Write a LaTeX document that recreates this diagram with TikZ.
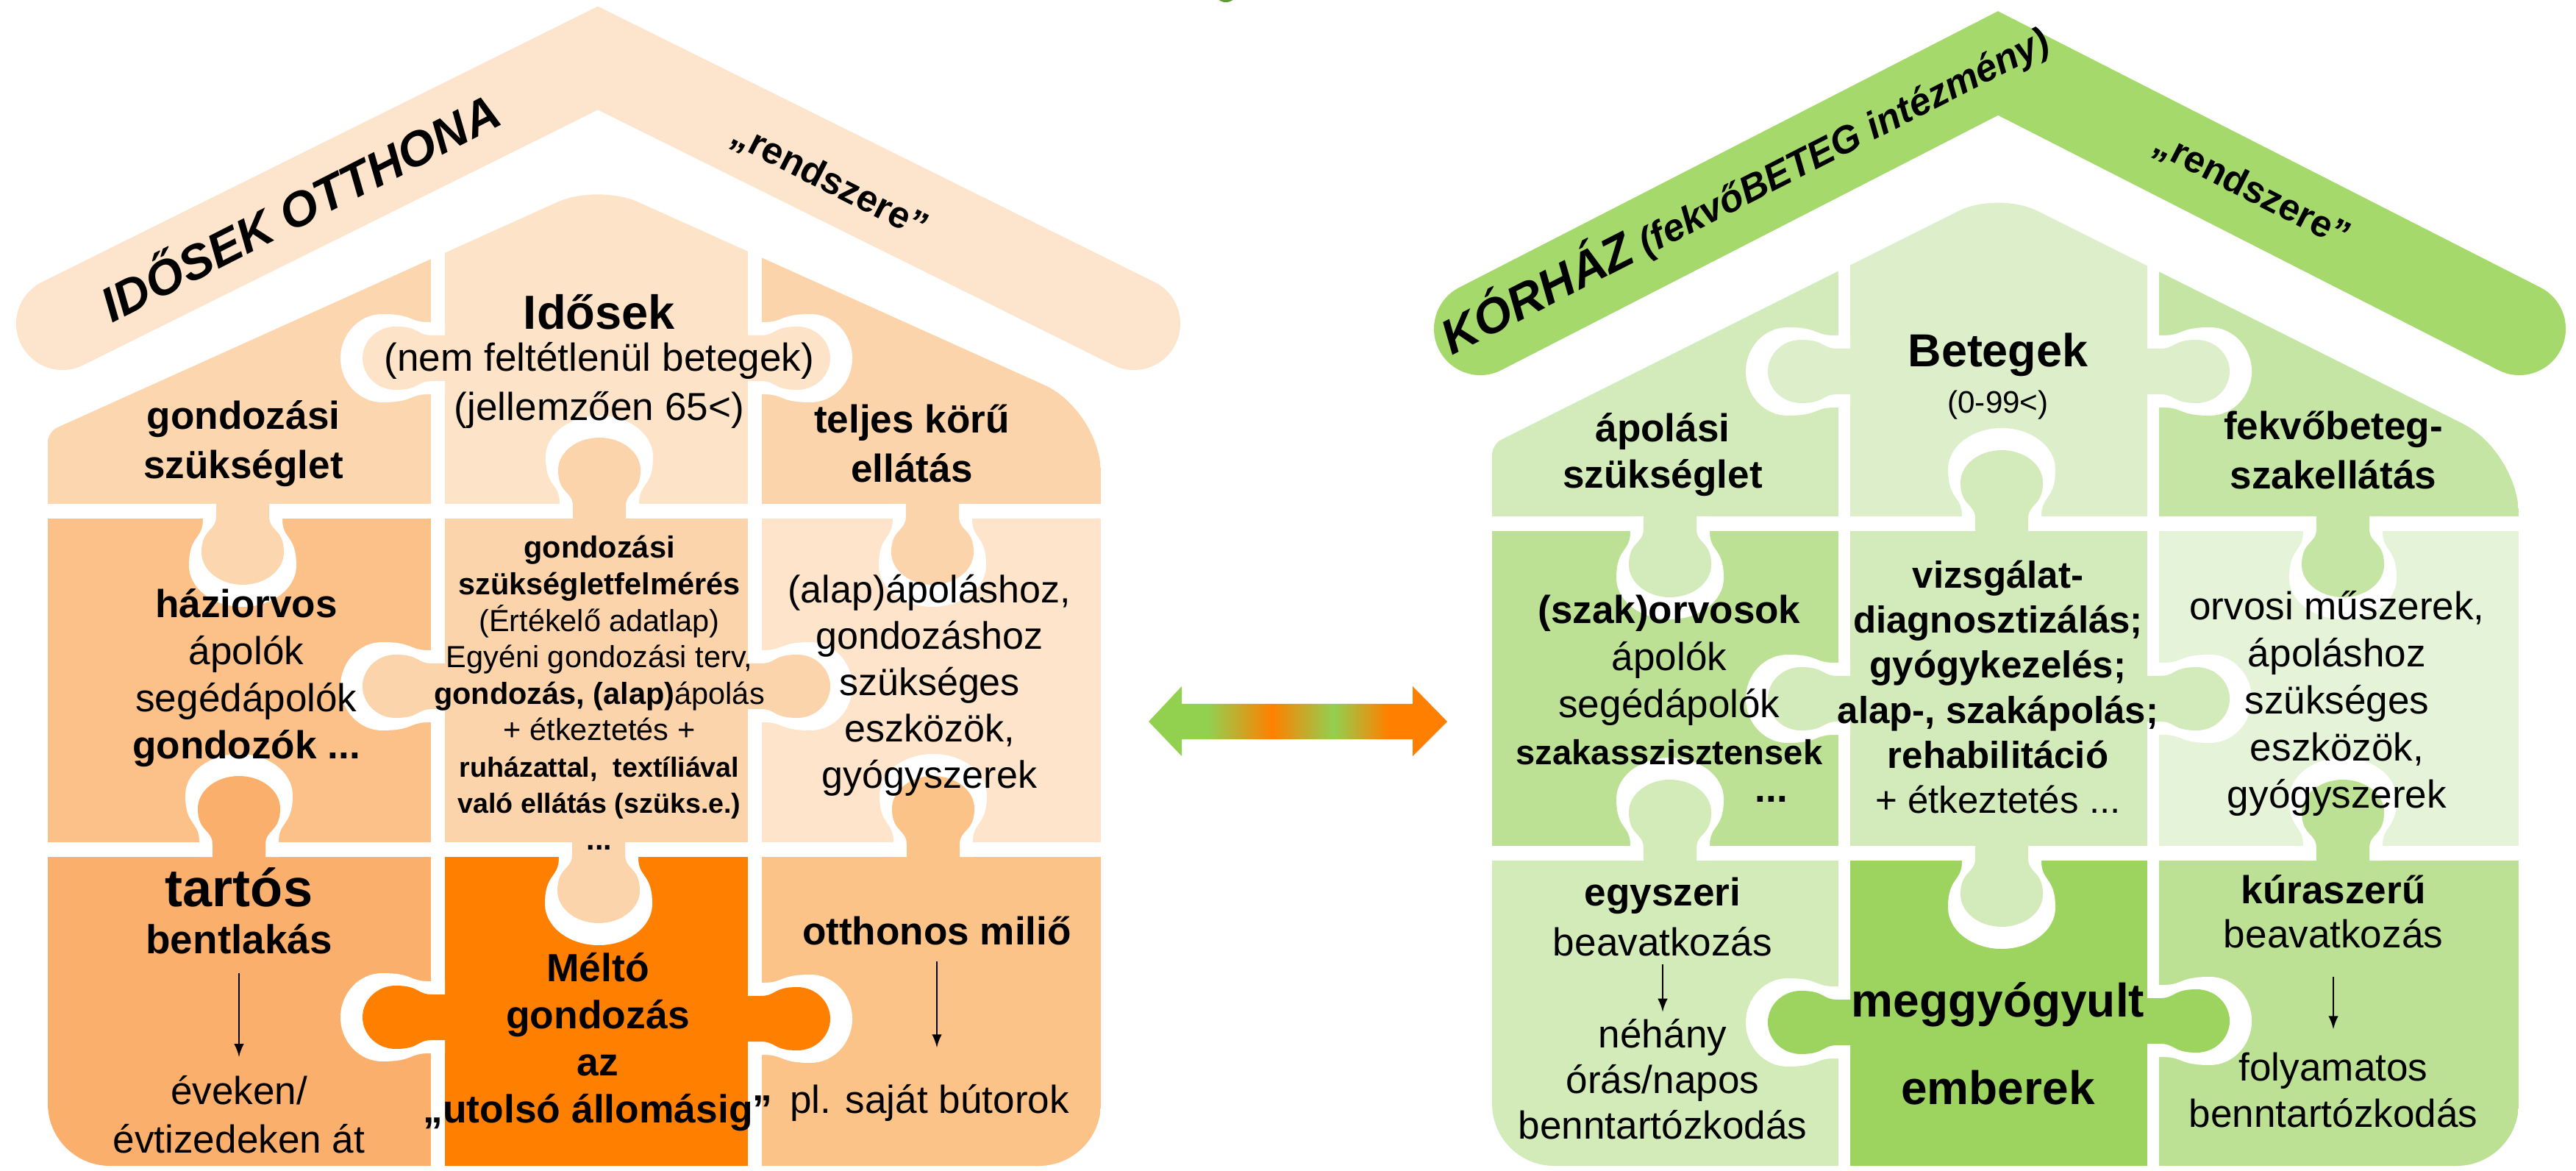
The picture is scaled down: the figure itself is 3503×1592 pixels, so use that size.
\documentclass[tikz,border=0pt]{standalone}
\usepackage{fontspec}
\setmainfont{Liberation Sans}
\usepackage{xcolor}
\usepackage{tikz}
\tikzset{>=latex}
\usetikzlibrary{calc}
\definecolor{idoroof}{HTML}{FDE5CD}
\definecolor{idocare}{HTML}{FCD6AF}
\definecolor{idoelder}{HTML}{FDE3C8}
\definecolor{idofull}{HTML}{FCD4AB}
\definecolor{idodoc}{HTML}{FBC189}
\definecolor{idoassess}{HTML}{FCD4AC}
\definecolor{idotools}{HTML}{FDE4CA}
\definecolor{idolong}{HTML}{FAB06C}
\definecolor{idodignity}{HTML}{FF8000}
\definecolor{idohome}{HTML}{FCC389}
\definecolor{korroof}{HTML}{A6D96B}
\definecolor{korcare}{HTML}{D3EBBB}
\definecolor{korpatient}{HTML}{DCEFCA}
\definecolor{korspec}{HTML}{C5E5A4}
\definecolor{kordoc}{HTML}{BCE194}
\definecolor{kortreat}{HTML}{D3EBBB}
\definecolor{kortools}{HTML}{E5F3D9}
\definecolor{koronce}{HTML}{D2EBB9}
\definecolor{korcured}{HTML}{9DD35F}
\definecolor{korcure}{HTML}{BCE194}
\definecolor{korblob}{HTML}{5E9C36}
\definecolor{arrowgreen}{HTML}{92D050}
\definecolor{arroworange}{HTML}{FF8000}
\pgfdeclarehorizontalshading{arrowshade}{100bp}{color(0bp)=(arrowgreen); color(35bp)=(arrowgreen); color(45.7bp)=(arroworange); color(55.9bp)=(arrowgreen); color(65bp)=(arroworange); color(100bp)=(arroworange)}
\tikzset{
  roof/.style={line width=35.85pt, line cap=round, line join=miter},
  celltxt/.style={align=center, inner sep=1pt, font=\fontsize{15.1}{18.2}\selectfont},
  cellbf/.style={celltxt, font=\fontsize{15.1}{19.1}\selectfont\bfseries},
  rooftxt/.style={font=\fontsize{18.8}{22}\selectfont\bfseries\itshape},
  quotetxt/.style={font=\fontsize{14.5}{17}\selectfont\bfseries},
  textarrow/.style={->, line width=0.75pt}
}

\begin{document}
\begin{tikzpicture}[x=0.01cm, y=-0.01cm]
\useasboundingbox (0,0) rectangle (3503,1592);

% roof bands
\draw[roof, idoroof] (85,440) -- (813,79) -- (1542,440);
\draw[roof, korroof] (2013,447) -- (2717,86) -- (3426,447);
\fill[korblob] (1667,-8) ellipse (14 and 11);

% left house, nine pieces
\begin{scope}
  \clip (65,1000) [rounded corners=24pt] -- (65,1585) -- (1497,1585) -- (1497,558)
    [rounded corners=17pt] -- (813,250) [rounded corners=4pt] -- (65,587) [rounded corners=17pt] -- cycle;
  \foreach \xa/\ya/\xb/\yb/\c in {
    65/200/586/685/idocare, 605/200/1017/685/idoelder, 1036/200/1497/685/idofull,
    65/705/586/1145/idodoc, 605/705/1017/1145/idoassess, 1036/705/1497/1145/idotools,
    65/1165/586/1590/idolong, 605/1165/1017/1590/idodignity, 1036/1165/1497/1590/idohome} {
    \fill[\c] (\xa,\ya) rectangle (\xb,\yb);
  }
\end{scope}

% right house, nine pieces
\begin{scope}
  \clip (2029,1000) [rounded corners=24pt] -- (2029,1585) -- (3425,1585) -- (3425,614)
    [rounded corners=17pt] -- (2717,260) [rounded corners=4pt] -- (2029,604) [rounded corners=17pt] -- cycle;
  \foreach \xa/\ya/\xb/\yb/\c in {
    2029/200/2500/702/korcare, 2516/200/2920/702/korpatient, 2936/200/3425/702/korspec,
    2029/722/2500/1150/kordoc, 2516/722/2920/1150/kortreat, 2936/722/3425/1150/kortools,
    2029/1170/2500/1590/koronce, 2516/1170/2920/1590/korcured, 2936/1170/3425/1590/korcure} {
    \fill[\c] (\xa,\ya) rectangle (\xb,\yb);
  }
\end{scope}

% puzzle tabs: white socket first, then the tab in its owner's colour
\foreach \x/\y/\a/\c/\tlen/\tbulb/\tneck in {
  605/487/180/idoelder/112/86/62, 1017/487/0/idoelder/112/86/62,
  605/933/180/idoassess/112/86/62, 1017/933/0/idoassess/112/86/62,
  605/1383/180/idodignity/112/86/62, 1017/1385/0/idodignity/112/86/62,
  815/705/90/idoassess/110/112/72, 330/685/-90/idocare/110/112/72,
  1268/685/-90/idofull/110/112/72, 325/1165/90/idolong/110/112/72,
  1269/1165/90/idohome/110/112/72, 814/1145/-90/idoassess/110/112/72,
  2516/505/180/korpatient/112/86/62, 2920/505/0/korpatient/112/86/62,
  2516/950/180/kortreat/112/86/62, 2920/950/0/kortreat/112/86/62,
  2516/1390/180/korcured/112/86/62, 2920/1388/0/korcured/112/86/62,
  2722/722/90/kortreat/110/112/72, 2271/702/-90/korcare/110/112/72,
  3186/702/-90/korspec/110/112/72, 2271/1170/90/koronce/110/112/72,
  3186/1170/90/korcure/110/112/72, 2722/1150/-90/kortreat/110/112/72} {
  \begin{scope}[shift={(\x,\y)}, rotate=\a]
    \pgfmathsetmacro\slen{\tlen+30}
    \pgfmathsetmacro\sbulb{(\tbulb+34)/2}
    \pgfmathsetmacro\sneck{(\tneck+36)/2}
    \pgfmathsetmacro\kbulb{\tbulb/2}
    \pgfmathsetmacro\kneck{\tneck/2}
    \fill[white] (0,-\sneck) -- ({0.15*\slen},-\sneck)
      .. controls ({0.35*\slen},-\sneck) and ({0.3*\slen},-\sbulb) .. ({0.6*\slen},-\sbulb)
      .. controls ({0.82*\slen},-\sbulb) and (\slen,{-0.55*\sbulb}) .. (\slen,0)
      .. controls (\slen,{0.55*\sbulb}) and ({0.82*\slen},\sbulb) .. ({0.6*\slen},\sbulb)
      .. controls ({0.3*\slen},\sbulb) and ({0.35*\slen},\sneck) .. ({0.15*\slen},\sneck)
      -- (0,\sneck) -- cycle;
    \fill[\c] (-3,-\kneck) -- ({0.15*\tlen},-\kneck)
      .. controls ({0.35*\tlen},-\kneck) and ({0.3*\tlen},-\kbulb) .. ({0.6*\tlen},-\kbulb)
      .. controls ({0.82*\tlen},-\kbulb) and (\tlen,{-0.55*\kbulb}) .. (\tlen,0)
      .. controls (\tlen,{0.55*\kbulb}) and ({0.82*\tlen},\kbulb) .. ({0.6*\tlen},\kbulb)
      .. controls ({0.3*\tlen},\kbulb) and ({0.35*\tlen},\kneck) .. ({0.15*\tlen},\kneck)
      -- (-3,\kneck) -- cycle;
  \end{scope}
}

% double arrow between the houses
\shade[shading=arrowshade] (1562,981) -- (1607,933) -- (1607,957) -- (1921,957) -- (1921,933)
  -- (1968,981) -- (1921,1028) -- (1921,1005) -- (1607,1005) -- (1607,1028) -- cycle;

% roof texts
\node[rooftxt, rotate=27] (idoTitle) at (406,278) {IDŐSEK OTTHONA};
\node[quotetxt, rotate=-27] (idoQuote) at (1128,247) {„rendszere”};
\node[rooftxt, rotate=27] (korTitle) at (2372,254) {KÓRHÁZ{\fontsize{14.8}{17}\selectfont{} (fekvőBETEG intézmény)}};
\node[quotetxt, rotate=-27] (korQuote) at (3062,259) {„rendszere”};

% left house texts
\node[cellbf] (idoCareTxt) at (331,603) {gondozási\\szükséglet};
\node[cellbf, font=\fontsize{18.5}{20}\selectfont\bfseries] (idoElderHead) at (815,424) {Idősek};
\node[celltxt, font=\fontsize{15.1}{19.1}\selectfont] (idoElderTxt) at (815,524) {(nem feltétlenül betegek)\\(jellemzően 65<)};
\node[cellbf] (idoFullTxt) at (1240,603) {teljes körű\\ellátás};
\node[celltxt] (idoStaffTxt) at (335,922) {\textbf{háziorvos}\\ápolók\\segédápolók\\\textbf{gondozók ...}};
\node[celltxt, font=\fontsize{11.8}{14.1}\selectfont] (idoAssessTxt) at (815,942)
  {\textbf{gondozási}\\\textbf{szükségletfelmérés}\\(Értékelő adatlap)\\Egyéni gondozási terv,\\\textbf{gondozás, (alap)}ápolás\\+ étkeztetés +\\
   {\fontsize{10.7}{14.1}\selectfont\bfseries ruházattal,\ \ textíliával}\\{\fontsize{10.7}{14.1}\selectfont\bfseries való ellátás (szüks.e.)}\\\textbf{...}};
\node[celltxt, font=\fontsize{14.8}{17.9}\selectfont] (idoToolsTxt) at (1264,932) {(alap)ápoláshoz,\\gondozáshoz\\szükséges\\eszközök,\\gyógyszerek};
\node[cellbf, font=\fontsize{20.5}{22}\selectfont\bfseries] (idoLongHead) at (325,1206) {tartós};
\node[cellbf, font=\fontsize{15.6}{18}\selectfont\bfseries] (idoLongTxt) at (325,1277) {bentlakás};
\node[celltxt, font=\fontsize{15.1}{18.8}\selectfont] (idoYearsTxt) at (325,1515) {éveken/\\évtizedeken át};
\node[cellbf, font=\fontsize{15.2}{18.2}\selectfont\bfseries] (idoDignityTxt) at (813,1417) {Méltó\\gondozás\\az\\„utolsó állomásig”};
\node[cellbf] (idoHomeHead) at (1274,1266) {otthonos miliő};
\node[celltxt] (idoFurnTxt) at (1264,1499) {pl. saját bútorok};
\draw[textarrow, shorten <=6pt, shorten >=6pt] (idoLongTxt) -- (idoYearsTxt);
\draw[textarrow, shorten <=5pt, shorten >=13pt] (idoHomeHead.south) -- (idoHomeHead.south |- idoFurnTxt.north);

% right house texts
\node[cellbf, font=\fontsize{15.1}{18}\selectfont\bfseries] (korCareTxt) at (2261,618) {ápolási\\szükséglet};
\node[cellbf, font=\fontsize{17.9}{20}\selectfont\bfseries] (korPatHead) at (2717,482) {Betegek};
\node[celltxt, font=\fontsize{12}{14}\selectfont] (korPatTxt) at (2717,551) {(0-99<)};
\node[cellbf, font=\fontsize{15.1}{18.8}\selectfont\bfseries] (korSpecTxt) at (3173,612) {fekvőbeteg-\\szakellátás};
\node[celltxt] (korStaffTxt) at (2270,924) {\textbf{(szak)orvosok}\\ápolók\\segédápolók\\{\fontsize{13.4}{18.2}\selectfont\bfseries szakasszisztensek}};
\node[cellbf] (korStaffDots) at (2409,1087) {...};
\node[cellbf, font=\fontsize{14.5}{17.4}\selectfont\bfseries] (korTreatTxt) at (2717,934)
  {vizsgálat-\\diagnosztizálás;\\gyógykezelés;\\alap-, szakápolás;\\rehabilitáció\\\mdseries + étkeztetés ...};
\node[celltxt] (korToolsTxt) at (3178,956) {orvosi műszerek,\\ápoláshoz\\szükséges\\eszközök,\\gyógyszerek};
\node[cellbf] (korOnceHead) at (2261,1218) {egyszeri};
\node[celltxt] (korOnceTxt) at (2261,1280) {beavatkozás};
\node[celltxt, font=\fontsize{15.1}{17.7}\selectfont] (korStayTxt) at (2261,1467) {néhány\\órás/napos\\benntartózkodás};
\node[cellbf, font=\fontsize{18.2}{20}\selectfont\bfseries] (korCuredTxt) at (2717,1366) {meggyógyult};
\node[cellbf, font=\fontsize{18.2}{20}\selectfont\bfseries] (korPeopleTxt) at (2717,1479) {emberek};
\node[cellbf] (korCureHead) at (3173,1209) {kúraszerű};
\node[celltxt] (korCureTxt) at (3173,1269) {beavatkozás};
\node[celltxt, font=\fontsize{15.1}{17.7}\selectfont] (korLongTxt) at (3173,1482) {folyamatos\\benntartózkodás};
\draw[textarrow, shorten <=2pt, shorten >=1.5pt] (korOnceTxt) -- (korStayTxt);
\draw[textarrow, shorten <=10pt, shorten >=8pt] (korCureTxt) -- (korLongTxt);
\end{tikzpicture}
\end{document}
